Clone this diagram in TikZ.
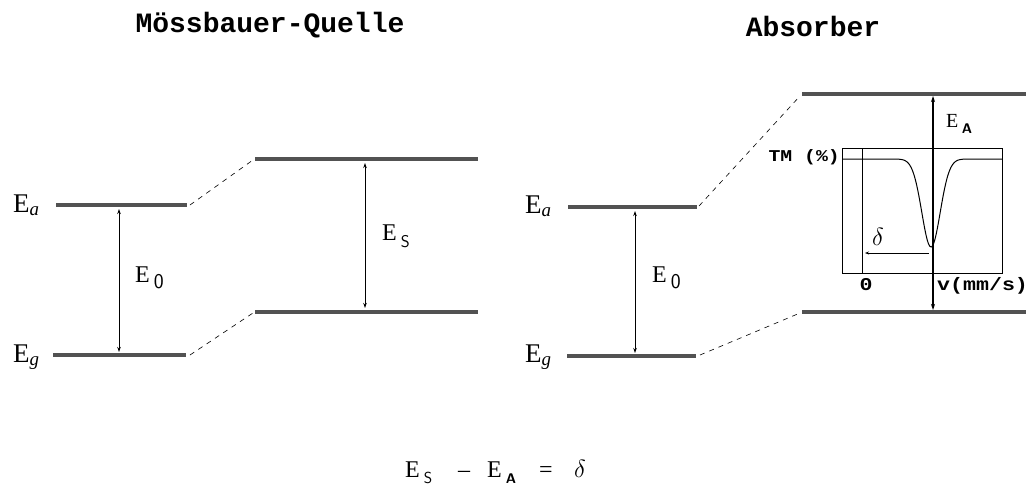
\documentclass[tikz,border=0pt]{standalone}
\usepackage{fontspec}
\usetikzlibrary{arrows.meta}
\newfontfamily\titlefont{Liberation Mono}
\newfontfamily\widemono[FakeStretch=1.2]{Liberation Mono}
\newfontfamily\labserif{Liberation Serif}
\begin{document}
\begin{tikzpicture}[x=1pt,y=-1pt,
  level/.style={line width=4.5pt,draw=black!68},
  link/.style={line width=0.6pt,dash pattern=on 5pt off 5pt},
  gap/.style={line width=0.9pt,{Stealth[length=5pt,width=3.5pt]}-{Stealth[length=5pt,width=3.5pt]}},
  thickgap/.style={line width=1.6pt,{Stealth[length=6pt,width=4pt]}-{Stealth[length=6pt,width=4pt]}},
  title/.style={font=\titlefont\bfseries\fontsize{28}{30}\selectfont,inner sep=0pt},
  elab/.style={font=\labserif\fontsize{27}{29}\selectfont,inner sep=0pt,anchor=base west},
  mlab/.style={font=\labserif\fontsize{24}{26}\selectfont,inner sep=0pt,anchor=base west},
  slab/.style={font=\labserif\fontsize{20}{22}\selectfont,inner sep=0pt,anchor=base west},
  small/.style={font=\widemono\bfseries\fontsize{16.5}{18}\selectfont,inner sep=0pt},
  smallb/.style={font=\widemono\bfseries\fontsize{18}{20}\selectfont,inner sep=0pt},
  box/.style={line width=0.8pt}]
\useasboundingbox (0,0) rectangle (1030,485);

% titles
\node[title] (tq) at (270,25) {Mössbauer-Quelle};
\node[title] (ta) at (813,26) {Absorber};

% source levels
\coordinate (sa1) at (56,205);  \coordinate (sa2) at (187,205);
\coordinate (sg1) at (53,355);  \coordinate (sg2) at (186,355);
\coordinate (su1) at (255,159); \coordinate (su2) at (478,159);
\coordinate (sl1) at (255,312); \coordinate (sl2) at (478,312);
\draw[level] (sa1) -- (sa2);
\draw[level] (sg1) -- (sg2);
\draw[level] (su1) -- (su2);
\draw[level] (sl1) -- (sl2);
\coordinate (da1) at (190,205); \coordinate (da2) at (253,160);
\coordinate (dg1) at (190,355); \coordinate (dg2) at (253,313);
\draw[link] (da1) -- (da2);
\draw[link] (dg1) -- (dg2);
\coordinate (e0t) at (119,209); \coordinate (e0b) at (119,352);
\draw[gap] (e0t) -- (e0b);
\coordinate (est) at (365,163); \coordinate (esb) at (365,308);
\draw[gap] (est) -- (esb);

\node[elab] (lEa) at (13,212) {E\textsubscript{\itshape a}};
\node[elab] (lEg) at (13,362) {E\textsubscript{\itshape g}};
\node[mlab] (lE0) at (135,282) {E\,\raisebox{-6pt}{\sffamily\fontsize{21}{23}\selectfont 0}};
\node[mlab] (lEs) at (382,240) {E\,\raisebox{-7pt}{\sffamily\fontsize{17}{19}\selectfont S}};

% absorber levels
\coordinate (aa1) at (568,207); \coordinate (aa2) at (697,207);
\coordinate (ag1) at (567,356); \coordinate (ag2) at (696,356);
\coordinate (au1) at (802,94);  \coordinate (au2) at (1026,94);
\coordinate (al1) at (802,312); \coordinate (al2) at (1026,312);
\draw[level] (aa1) -- (aa2);
\draw[level] (ag1) -- (ag2);
\draw[level] (au1) -- (au2);
\draw[level] (al1) -- (al2);
\coordinate (ea1) at (699,206); \coordinate (ea2) at (800,96);
\coordinate (eg1) at (700,355); \coordinate (eg2) at (800,313);
\draw[link] (ea1) -- (ea2);
\draw[link] (eg1) -- (eg2);
\coordinate (a0t) at (635,211); \coordinate (a0b) at (635,353);
\draw[gap] (a0t) -- (a0b);

\node[elab] (rEa) at (525,213) {E\textsubscript{\itshape a}};
\node[elab] (rEg) at (525,362) {E\textsubscript{\itshape g}};
\node[mlab] (rE0) at (652,282) {E\,\raisebox{-6pt}{\sffamily\fontsize{21}{23}\selectfont 0}};

% spectrum box
\draw[box] (842,148) rectangle (1002,273);
\draw[box] (862,148) -- (862,273);
\draw[line width=1pt,smooth,samples=120,domain=843:1002] plot (\x,{159+88*exp(-((\x-931)/13)^2)});
\coordinate (dl) at (865,253); \coordinate (dr) at (929,253);
\draw[line width=0.8pt,{Stealth[length=4pt,width=3pt]}-] (dl) -- (dr);
\node[font=\fontsize{26}{28}\selectfont,inner sep=0pt] (dsym) at (878,237) {$\delta$};
\coordinate (eat) at (933,96); \coordinate (eab) at (933,310);
\draw[thickgap] (eat) -- (eab);
\node[slab] (lEA) at (946,127) {E\,\raisebox{-6pt}{\sffamily\bfseries\fontsize{14}{16}\selectfont A}};
\node[small,anchor=east] (tm) at (840,157) {TM (\%)};
\node[smallb] (zero) at (866,285) {0};
\node[smallb,anchor=west] (vel) at (937,286) {v(mm/s)};

% equation
\node[mlab] (qES) at (405,477) {E\,\raisebox{-6pt}{\sffamily\fontsize{16}{18}\selectfont S}};
\node[mlab] (qMinus) at (458,477) {\textendash};
\node[mlab] (qEA) at (487,477) {E\,\raisebox{-6pt}{\sffamily\bfseries\fontsize{14}{16}\selectfont A}};
\node[mlab] (qEq) at (539,477) {=};
\node[mlab] (qD) at (574,477) {$\delta$};
\end{tikzpicture}
\end{document}
